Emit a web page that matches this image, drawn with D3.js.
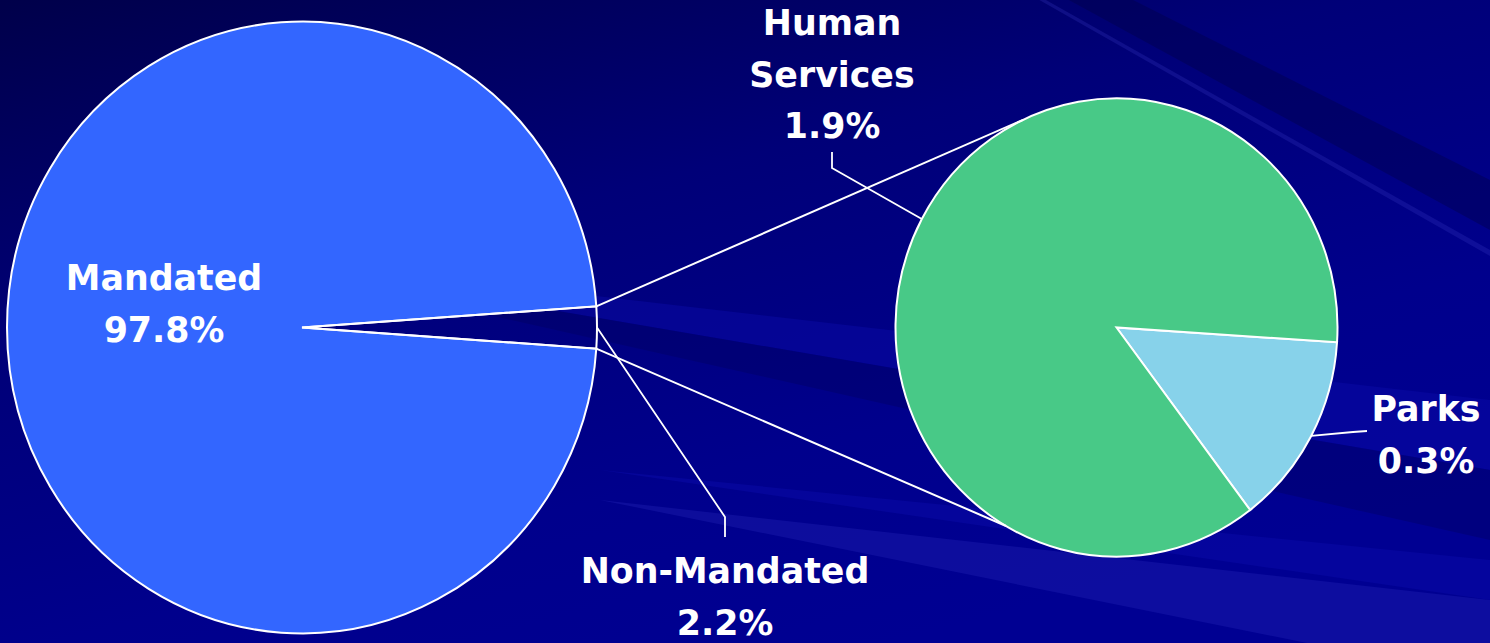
<!DOCTYPE html>
<html>
<head>
<meta charset="utf-8">
<script src="https://d3js.org/d3.v7.min.js"></script>
<style>
  html, body { margin: 0; padding: 0; background: #000070; overflow: hidden; }
  svg { display: block; }
</style>
</head>
<body>
<svg id="chart" width="1490" height="643"></svg>
<script>

// data
var mainNames = ["Mandated", "Non-Mandated"],
    mainValues = [97.8, 2.2],
    mainColors = ["#3366ff", "none"];

var subNames = ["Parks", "Human Services"],
    subValues = [0.3, 1.9],
    subColors = ["#87d2ea", "#48c987"];

var svg = d3.select("#chart"),
    width = +svg.attr("width"),
    height = +svg.attr("height");

var fmt = function(v) { return d3.format(".1f")(v) + "%"; };
var rad = Math.PI / 180;

// ---- background ----
var defs = svg.append("defs");
var bg = defs.append("linearGradient")
    .attr("id", "bg")
    .attr("x1", "0").attr("y1", "0")
    .attr("x2", "0.6").attr("y2", "1");
bg.append("stop").attr("offset", "0").attr("stop-color", "#00004a");
bg.append("stop").attr("offset", "0.4").attr("stop-color", "#000078");
bg.append("stop").attr("offset", "0.75").attr("stop-color", "#00008c");
bg.append("stop").attr("offset", "1").attr("stop-color", "#000092");

svg.append("rect")
    .attr("width", width)
    .attr("height", height)
    .attr("fill", "url(#bg)");

// faint streaks: origin point, then y range where they leave the right edge
var streaks = [
  {o: [300, -420], y0: 180, y1: 230, c: "#000040", op: 0.35},
  {o: [300, -420], y0: 250, y1: 256, c: "#3a3ac8", op: 0.25},
  {o: [200, 250], y0: 400, y1: 470, c: "#0a0aa8", op: 0.45},
  {o: [200, 250], y0: 470, y1: 540, c: "#00005c", op: 0.35},
  {o: [600, 470], y0: 560, y1: 600, c: "#0a0aa8", op: 0.5},
  {o: [600, 500], y0: 600, y1: 680, c: "#2424b8", op: 0.35}
];
svg.append("g")
  .selectAll("path")
  .data(streaks)
  .join("path")
    .attr("d", function(d) {
      return "M" + d.o + "L" + [width, d.y0] + "L" + [width, d.y1] + "Z";
    })
    .attr("fill", function(d) { return d.c; })
    .attr("opacity", function(d) { return d.op; });

// ---- geometry ----
var ky = 1.037;                // the source picture is slightly stretched vertically
var main = {cx: 302, cy: 327.5, r: 295},
    sub = {cx: 1116.5, cy: 327.5, r: 221};

function pt(p, a, r) {
  r = r || p.r;
  return [p.cx + r * Math.sin(a), p.cy - r * Math.cos(a) * ky];
}

var half = mainValues[1] / d3.sum(mainValues) * Math.PI;  // half of small slice angle
var mainPie = d3.pie().sort(null)
    .startAngle(Math.PI / 2 + half)
    .endAngle(Math.PI / 2 + half + 2 * Math.PI);
var subPie = d3.pie().sort(null)
    .startAngle(93.7 * rad)
    .endAngle(93.7 * rad + 2 * Math.PI);

var mainArcs = mainPie(mainValues),
    subArcs = subPie(subValues);

var arcMain = d3.arc().innerRadius(0).outerRadius(main.r),
    arcSub = d3.arc().innerRadius(0).outerRadius(sub.r);

var lineColor = "#ffffff";

// main pie
svg.append("g")
    .attr("transform", "translate(" + main.cx + "," + main.cy + ") scale(1," + ky + ")")
  .selectAll("path")
  .data(mainArcs)
  .join("path")
    .attr("d", arcMain)
    .attr("fill", function(d, i) { return mainColors[i]; })
    .attr("stroke", lineColor)
    .attr("stroke-width", 2)
    .attr("vector-effect", "non-scaling-stroke");

// secondary pie
svg.append("g")
    .attr("transform", "translate(" + sub.cx + "," + sub.cy + ") scale(1," + ky + ")")
  .selectAll("path")
  .data(subArcs)
  .join("path")
    .attr("d", arcSub)
    .attr("fill", function(d, i) { return subColors[i]; })
    .attr("stroke", lineColor)
    .attr("stroke-width", 2)
    .attr("vector-effect", "non-scaling-stroke");

// connector lines between the pies
var small = mainArcs[1];
var conn = [
  [pt(main, small.startAngle), pt(sub, -25 * rad)],
  [pt(main, small.endAngle + 2 * Math.PI), pt(sub, -150 * rad)]
];
svg.append("g")
  .selectAll("line")
  .data(conn)
  .join("line")
    .attr("x1", function(d) { return d[0][0]; })
    .attr("y1", function(d) { return d[0][1]; })
    .attr("x2", function(d) { return d[1][0]; })
    .attr("y2", function(d) { return d[1][1]; })
    .attr("stroke", lineColor)
    .attr("stroke-width", 2);

// leader lines
function mid(d) { return (d.startAngle + d.endAngle) / 2; }
var leaders = [
  [pt(main, mid(small) - 2 * Math.PI), [725, 517], [725, 537]],
  [pt(sub, mid(subArcs[1]) - 2 * Math.PI), [832, 168], [832, 152]],
  [pt(sub, mid(subArcs[0])), [1353, 432], [1367, 431]]
];
svg.append("g")
  .selectAll("path")
  .data(leaders)
  .join("path")
    .attr("d", d3.line())
    .attr("fill", "none")
    .attr("stroke", lineColor)
    .attr("stroke-width", 1.8);

// labels
var labels = [
  {lines: [mainNames[0], fmt(mainValues[0])], x: 164, y: 290},
  {lines: [mainNames[1], fmt(mainValues[1])], x: 725, y: 583},
  {lines: ["Human", "Services", fmt(subValues[1])], x: 832, y: 35},
  {lines: [subNames[0], fmt(subValues[0])], x: 1426, y: 421}
];
var lab = svg.append("g")
    .attr("font-family", "'DejaVu Sans', Verdana, sans-serif")
    .attr("font-weight", "bold")
    .attr("font-size", 34.8)
    .attr("fill", "#ffffff")
    .attr("text-anchor", "middle")
  .selectAll("text")
  .data(labels)
  .join("text")
    .attr("x", function(d) { return d.x; })
    .attr("y", function(d) { return d.y; });
lab.selectAll("tspan")
  .data(function(d) { return d.lines.map(function(t, i) { return {t: t, x: d.x, i: i}; }); })
  .join("tspan")
    .attr("x", function(d) { return d.x; })
    .attr("dy", function(d) { return d.i ? 51.5 : 0; })
    .text(function(d) { return d.t; });

</script>
</body>
</html>
